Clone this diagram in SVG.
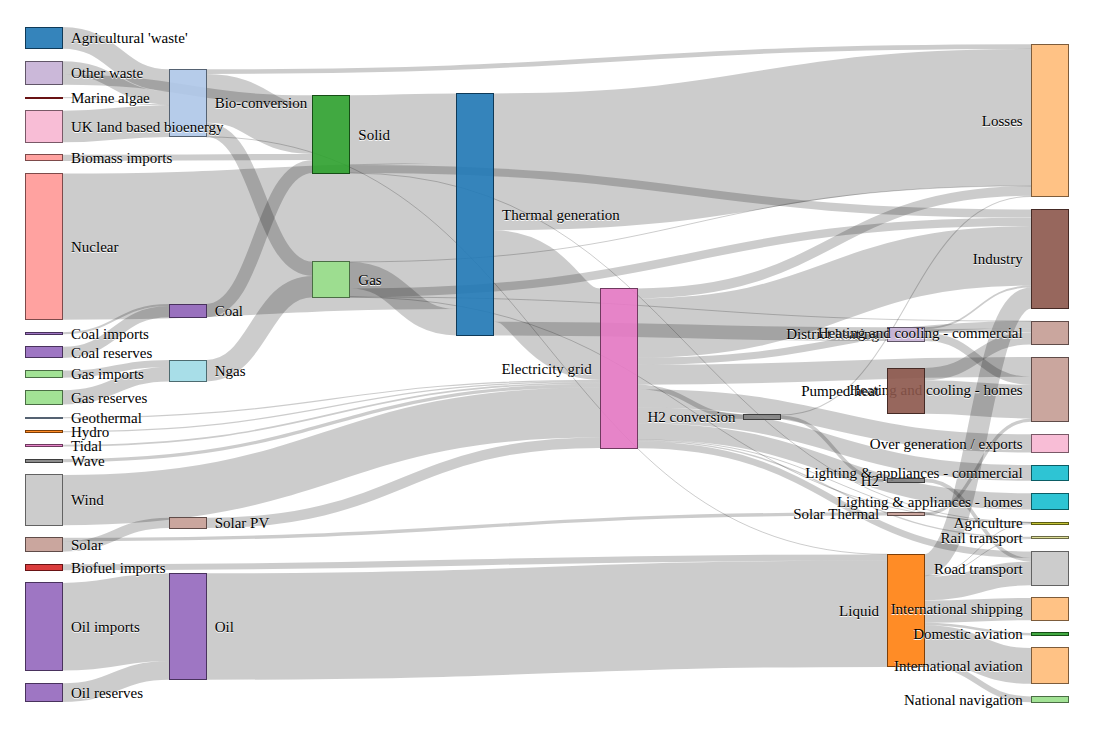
<svg xmlns="http://www.w3.org/2000/svg" width="1098" height="730" viewBox="0 0 1098 730">
<style>
.links path{fill:none;stroke:#000;stroke-opacity:.2}
.node rect{fill-opacity:.9;shape-rendering:crispEdges;stroke-width:1}
.node text{font-family:"Liberation Serif","Times New Roman",serif;font-size:15px;fill:#000;text-shadow:0 1px 0 #fff}
.l text{text-anchor:start}
.r text{text-anchor:end}
.k1 rect{fill:#1f77b4;stroke:#0f3a58}
.k2 rect{fill:#aec7e8;stroke:#556272}
.k3 rect{fill:#ff7f0e;stroke:#7d3e07}
.k4 rect{fill:#ffbb78;stroke:#7d5c3b}
.k5 rect{fill:#2ca02c;stroke:#164e16}
.k6 rect{fill:#98df8a;stroke:#4a6d44}
.k7 rect{fill:#d62728;stroke:#691314}
.k8 rect{fill:#ff9896;stroke:#7d4a4a}
.k9 rect{fill:#9467bd;stroke:#49325d}
.k10 rect{fill:#c5b0d5;stroke:#615668}
.k11 rect{fill:#8c564b;stroke:#452a25}
.k12 rect{fill:#c49c94;stroke:#604c49}
.k13 rect{fill:#e377c2;stroke:#6f3a5f}
.k14 rect{fill:#f7b6d2;stroke:#795967}
.k15 rect{fill:#7f7f7f;stroke:#3e3e3e}
.k16 rect{fill:#c7c7c7;stroke:#626262}
.k17 rect{fill:#bcbd22;stroke:#5c5d11}
.k18 rect{fill:#dbdb8d;stroke:#6b6b45}
.k19 rect{fill:#17becf;stroke:#0b5d65}
.k20 rect{fill:#9edae5;stroke:#4d6b70}
</style>
<rect width="1098" height="730" fill="#fff"/>
<g id="links" class="links">
<path d="M62.5,246.6C259.5,246.6 259.5,236.02 456.5,236.02" stroke-width="146.07"/>
<path d="M493.5,161.84C762.25,161.84 762.25,117.31 1031,117.31" stroke-width="136.88"/>
<path d="M206.2,626.51C546.8,626.51 546.8,613.7 887.4,613.7" stroke-width="106.43"/>
<path d="M493.5,275.98C546.8,275.98 546.8,334.1 600.1,334.1" stroke-width="91.39"/>
<path d="M62.5,626.77C115.85,626.77 115.85,617.15 169.2,617.15" stroke-width="87.7"/>
<path d="M349.8,130.09C403.15,130.09 403.15,128.19 456.5,128.19" stroke-width="69.58"/>
<path d="M637.1,328.01C834.05,328.01 834.05,255.82 1031,255.82" stroke-width="59.5"/>
<path d="M62.5,500.1C331.3,500.1 331.3,412.34 600.1,412.34" stroke-width="50.32"/>
<path d="M206.2,98.35C259.5,98.35 259.5,129.52 312.8,129.52" stroke-width="48.75"/>
<path d="M924.4,643.2C977.7,643.2 977.7,665.92 1031,665.92" stroke-width="35.87"/>
<path d="M924.4,397.07C977.7,397.07 977.7,401.6 1031,401.6" stroke-width="33.57"/>
<path d="M62.5,126.45C115.85,126.45 115.85,121.11 169.2,121.11" stroke-width="31.65"/>
<path d="M349.8,275.25C403.15,275.25 403.15,322.26 456.5,322.26" stroke-width="26.41"/>
<path d="M924.4,588.56C977.7,588.56 977.7,573.48 1031,573.48" stroke-width="23.62"/>
<path d="M924.4,611.57C977.7,611.57 977.7,609.08 1031,609.08" stroke-width="22.38"/>
<path d="M62.5,37.85C115.85,37.85 115.85,80.15 169.2,80.15" stroke-width="21.69"/>
<path d="M206.2,370.69C259.5,370.69 259.5,286.6 312.8,286.6" stroke-width="21.38"/>
<path d="M924.4,564.83C977.7,564.83 977.7,297.95 1031,297.95" stroke-width="21.05"/>
<path d="M637.1,374.76C834.05,374.76 834.05,366.9 1031,366.9" stroke-width="19.78"/>
<path d="M62.5,692.59C115.85,692.59 115.85,670.36 169.2,670.36" stroke-width="18.73"/>
<path d="M637.1,398.45C834.05,398.45 834.05,443.42 1031,443.42" stroke-width="18.16"/>
<path d="M637.1,431.31C834.05,431.31 834.05,501.48 1031,501.48" stroke-width="16.26"/>
<path d="M637.1,415.35C834.05,415.35 834.05,472.93 1031,472.93" stroke-width="15.65"/>
<path d="M62.5,397.4C115.85,397.4 115.85,374.23 169.2,374.23" stroke-width="14.3"/>
<path d="M206.2,129.77C259.5,129.77 259.5,268.86 312.8,268.86" stroke-width="14.11"/>
<path d="M493.5,328.57C690.45,328.57 690.45,334.2 887.4,334.2" stroke-width="13.8"/>
<path d="M62.5,68.05C115.85,68.05 115.85,97.76 169.2,97.76" stroke-width="13.53"/>
<path d="M206.2,310.57C259.5,310.57 259.5,166.55 312.8,166.55" stroke-width="13.14"/>
<path d="M924.4,374.15C977.7,374.15 977.7,338.27 1031,338.27" stroke-width="12.29"/>
<path d="M62.5,352.41C115.85,352.41 115.85,311.58 169.2,311.58" stroke-width="11.12"/>
<path d="M206.2,522.91C403.15,522.91 403.15,442.71 600.1,442.71" stroke-width="10.42"/>
<path d="M62.5,546.42C115.85,546.42 115.85,522.91 169.2,522.91" stroke-width="10.42"/>
<path d="M637.1,293.33C834.05,293.33 834.05,190.93 1031,190.93" stroke-width="9.86"/>
<path d="M62.5,79.74C187.65,79.74 187.65,100.22 312.8,100.22" stroke-width="9.84"/>
<path d="M349.8,292.68C690.4,292.68 690.4,221.85 1031,221.85" stroke-width="8.45"/>
<path d="M349.8,168.92C690.4,168.92 690.4,213.58 1031,213.58" stroke-width="8.08"/>
<path d="M924.4,337.08C977.7,337.08 977.7,380.8 1031,380.8" stroke-width="8.03"/>
<path d="M637.1,361.31C834.05,361.31 834.05,324.66 1031,324.66" stroke-width="7.11"/>
<path d="M62.5,374.11C115.85,374.11 115.85,363.54 169.2,363.54" stroke-width="7.08"/>
<path d="M637.1,444.86C834.05,444.86 834.05,554.75 1031,554.75" stroke-width="6.57"/>
<path d="M62.5,567.27C474.95,567.27 474.95,557.45 887.4,557.45" stroke-width="6.09"/>
<path d="M62.5,157.91C187.65,157.91 187.65,156.93 312.8,156.93" stroke-width="6.09"/>
<path d="M924.4,664.03C977.7,664.03 977.7,699.34 1031,699.34" stroke-width="5.78"/>
<path d="M637.1,387C690.4,387 690.4,416.76 743.7,416.76" stroke-width="4.72"/>
<path d="M206.2,71.64C618.6,71.64 618.6,46.54 1031,46.54" stroke-width="4.67"/>
<path d="M924.4,331.11C977.7,331.11 977.7,330.16 1031,330.16" stroke-width="3.91"/>
<path d="M780.7,417.3C834.05,417.3 834.05,480.42 887.4,480.42" stroke-width="3.63"/>
<path d="M924.4,480.42C977.7,480.42 977.7,559.85 1031,559.85" stroke-width="3.63"/>
<path d="M924.4,513.88C977.7,513.88 977.7,420.06 1031,420.06" stroke-width="3.35"/>
<path d="M62.5,539.54C474.95,539.54 474.95,513.88 887.4,513.88" stroke-width="3.35"/>
<path d="M62.5,460.68C331.3,460.68 331.3,385.52 600.1,385.52" stroke-width="3.31"/>
<path d="M924.4,624.01C977.7,624.01 977.7,634.13 1031,634.13" stroke-width="2.51"/>
<path d="M62.5,333.24C115.85,333.24 115.85,305.01 169.2,305.01" stroke-width="2.02"/>
<path d="M924.4,328.23C977.7,328.23 977.7,286.5 1031,286.5" stroke-width="1.85"/>
<path d="M62.5,445.61C331.3,445.61 331.3,383.05 600.1,383.05" stroke-width="1.64"/>
<path d="M637.1,440.89C834.05,440.89 834.05,537.41 1031,537.41" stroke-width="1.37"/>
<path d="M62.5,417.76C331.3,417.76 331.3,380.4 600.1,380.4" stroke-width="1.22"/>
<path d="M62.5,431.58C331.3,431.58 331.3,381.62 600.1,381.62" stroke-width="1.22"/>
<path d="M780.7,414.94C905.85,414.94 905.85,196.4 1031,196.4" stroke-width="1.09"/>
<path d="M637.1,439.82C834.05,439.82 834.05,523.11 1031,523.11" stroke-width="1"/>
<path d="M924.4,576.37C977.7,576.37 977.7,538.48 1031,538.48" stroke-width="1"/>
<path d="M62.5,97.64C115.85,97.64 115.85,104.9 169.2,104.9" stroke-width="1"/>
<path d="M924.4,575.67C977.7,575.67 977.7,523.81 1031,523.81" stroke-width="1"/>
<path d="M349.8,297.11C690.4,297.11 690.4,522.55 1031,522.55" stroke-width="1"/>
<path d="M349.8,261.92C690.4,261.92 690.4,185.88 1031,185.88" stroke-width="1"/>
<path d="M349.8,173.04C690.4,173.04 690.4,522.29 1031,522.29" stroke-width="1"/>
<path d="M206.2,136.88C546.8,136.88 546.8,554.35 887.4,554.35" stroke-width="1"/>
<path d="M349.8,296.92C690.4,296.92 690.4,321.09 1031,321.09" stroke-width="1"/>
</g>
<g id="nodes">
<g id="n-agricultural-waste" class="node l k1"><rect x="25.5" y="27" width="37" height="21.69"/><text x="71" y="43.1">Agricultural 'waste'</text></g>
<g id="n-bio-conversion" class="node l k2"><rect x="169.2" y="69.3" width="37" height="67.63"/><text x="214.7" y="108.4">Bio-conversion</text></g>
<g id="n-liquid" class="node r k3"><rect x="887.4" y="554.3" width="37" height="112.62"/><text x="879.1" y="615.9">Liquid</text></g>
<g id="n-losses" class="node r k4"><rect x="1031" y="44.2" width="37" height="152.74"/><text x="1022.7" y="125.8">Losses</text></g>
<g id="n-solid" class="node l k5"><rect x="312.8" y="95.3" width="37" height="77.82"/><text x="358.3" y="139.5">Solid</text></g>
<g id="n-gas" class="node l k6"><rect x="312.8" y="261.8" width="37" height="35.49"/><text x="358.3" y="284.8">Gas</text></g>
<g id="n-biofuel-imports" class="node l k7"><rect x="25.5" y="564.23" width="37" height="6.09"/><text x="71" y="572.5">Biofuel imports</text></g>
<g id="n-biomass-imports" class="node l k8"><rect x="25.5" y="154.87" width="37" height="6.09"/><text x="71" y="163.2">Biomass imports</text></g>
<g id="n-coal-imports" class="node l k9"><rect x="25.5" y="332.23" width="37" height="2.02"/><text x="71" y="338.5">Coal imports</text></g>
<g id="n-coal" class="node l k9"><rect x="169.2" y="304" width="37" height="13.14"/><text x="214.7" y="315.8">Coal</text></g>
<g id="n-coal-reserves" class="node l k9"><rect x="25.5" y="346.85" width="37" height="11.12"/><text x="71" y="357.7">Coal reserves</text></g>
<g id="n-district-heating" class="node r k10"><rect x="887.4" y="327.3" width="37" height="13.8"/><text x="879.1" y="339.45">District heating</text></g>
<g id="n-industry" class="node r k11"><rect x="1031" y="209.54" width="37" height="98.94"/><text x="1022.7" y="264.3">Industry</text></g>
<g id="n-hc-commercial" class="node r k12"><rect x="1031" y="321.08" width="37" height="23.33"/><text x="1022.7" y="338">Heating and cooling - commercial</text></g>
<g id="n-hc-homes" class="node r k12"><rect x="1031" y="357.01" width="37" height="64.73"/><text x="1022.7" y="394.6">Heating and cooling - homes</text></g>
<g id="n-electricity-grid" class="node r k13"><rect x="600.1" y="288.4" width="37" height="159.74"/><text x="591.8" y="373.5">Electricity grid</text></g>
<g id="n-over-generation" class="node r k14"><rect x="1031" y="434.34" width="37" height="18.16"/><text x="1022.7" y="448.7">Over generation / exports</text></g>
<g id="n-h2-conversion" class="node r k15"><rect x="743.7" y="414.4" width="37" height="4.72"/><text x="735.4" y="422">H2 conversion</text></g>
<g id="n-road-transport" class="node r k16"><rect x="1031" y="551.46" width="37" height="33.83"/><text x="1022.7" y="573.6">Road transport</text></g>
<g id="n-agriculture" class="node r k17"><rect x="1031" y="522.21" width="37" height="1.92"/><text x="1022.7" y="528.4">Agriculture</text></g>
<g id="n-rail-transport" class="node r k18"><rect x="1031" y="536.73" width="37" height="2.13"/><text x="1022.7" y="543">Rail transport</text></g>
<g id="n-la-commercial" class="node r k19"><rect x="1031" y="465.1" width="37" height="15.65"/><text x="1022.7" y="478.2">Lighting &amp; appliances - commercial</text></g>
<g id="n-la-homes" class="node r k19"><rect x="1031" y="493.35" width="37" height="16.26"/><text x="1022.7" y="506.7">Lighting &amp; appliances - homes</text></g>
<g id="n-gas-imports" class="node l k6"><rect x="25.5" y="370.57" width="37" height="7.08"/><text x="71" y="379.4">Gas imports</text></g>
<g id="n-ngas" class="node l k20"><rect x="169.2" y="360" width="37" height="21.38"/><text x="214.7" y="375.9">Ngas</text></g>
<g id="n-gas-reserves" class="node l k6"><rect x="25.5" y="390.25" width="37" height="14.3"/><text x="71" y="402.7">Gas reserves</text></g>
<g id="n-thermal-generation" class="node l k1"><rect x="456.5" y="93.4" width="37" height="242.07"/><text x="502" y="219.7">Thermal generation</text></g>
<g id="n-geothermal" class="node l k2"><rect x="25.5" y="417.15" width="37" height="1.22"/><text x="71" y="423">Geothermal</text></g>
<g id="n-h2" class="node r k15"><rect x="887.4" y="478.6" width="37" height="3.63"/><text x="879.1" y="485.7">H2</text></g>
<g id="n-hydro" class="node l k3"><rect x="25.5" y="430.97" width="37" height="1.22"/><text x="71" y="436.8">Hydro</text></g>
<g id="n-international-shipping" class="node r k4"><rect x="1031" y="597.89" width="37" height="22.38"/><text x="1022.7" y="614.3">International shipping</text></g>
<g id="n-domestic-aviation" class="node r k5"><rect x="1031" y="632.87" width="37" height="2.51"/><text x="1022.7" y="639.4">Domestic aviation</text></g>
<g id="n-international-aviation" class="node r k4"><rect x="1031" y="647.98" width="37" height="35.87"/><text x="1022.7" y="671.2">International aviation</text></g>
<g id="n-national-navigation" class="node r k6"><rect x="1031" y="696.45" width="37" height="5.78"/><text x="1022.7" y="704.6">National navigation</text></g>
<g id="n-marine-algae" class="node l k7"><rect x="25.5" y="97.26" width="37" height="0.76"/><text x="71" y="102.9">Marine algae</text></g>
<g id="n-nuclear" class="node l k8"><rect x="25.5" y="173.56" width="37" height="146.07"/><text x="71" y="251.9">Nuclear</text></g>
<g id="n-oil-imports" class="node l k9"><rect x="25.5" y="582.92" width="37" height="87.7"/><text x="71" y="632">Oil imports</text></g>
<g id="n-oil" class="node l k9"><rect x="169.2" y="573.3" width="37" height="106.43"/><text x="214.7" y="631.8">Oil</text></g>
<g id="n-oil-reserves" class="node l k9"><rect x="25.5" y="683.22" width="37" height="18.73"/><text x="71" y="697.8">Oil reserves</text></g>
<g id="n-other-waste" class="node l k10"><rect x="25.5" y="61.29" width="37" height="23.37"/><text x="71" y="78.2">Other waste</text></g>
<g id="n-pumped-heat" class="node r k11"><rect x="887.4" y="368" width="37" height="45.86"/><text x="879.1" y="396.2">Pumped heat</text></g>
<g id="n-solar-pv" class="node l k12"><rect x="169.2" y="517.7" width="37" height="10.42"/><text x="214.7" y="528.2">Solar PV</text></g>
<g id="n-solar-thermal" class="node r k12"><rect x="887.4" y="512.2" width="37" height="3.35"/><text x="879.1" y="519.1">Solar Thermal</text></g>
<g id="n-solar" class="node l k12"><rect x="25.5" y="537.86" width="37" height="13.77"/><text x="71" y="550">Solar</text></g>
<g id="n-tidal" class="node l k13"><rect x="25.5" y="444.79" width="37" height="1.64"/><text x="71" y="450.9">Tidal</text></g>
<g id="n-uk-land" class="node l k14"><rect x="25.5" y="110.62" width="37" height="31.65"/><text x="71" y="131.7">UK land based bioenergy</text></g>
<g id="n-wave" class="node l k15"><rect x="25.5" y="459.03" width="37" height="3.31"/><text x="71" y="465.9">Wave</text></g>
<g id="n-wind" class="node l k16"><rect x="25.5" y="474.94" width="37" height="50.32"/><text x="71" y="505.4">Wind</text></g>
</g>
</svg>
